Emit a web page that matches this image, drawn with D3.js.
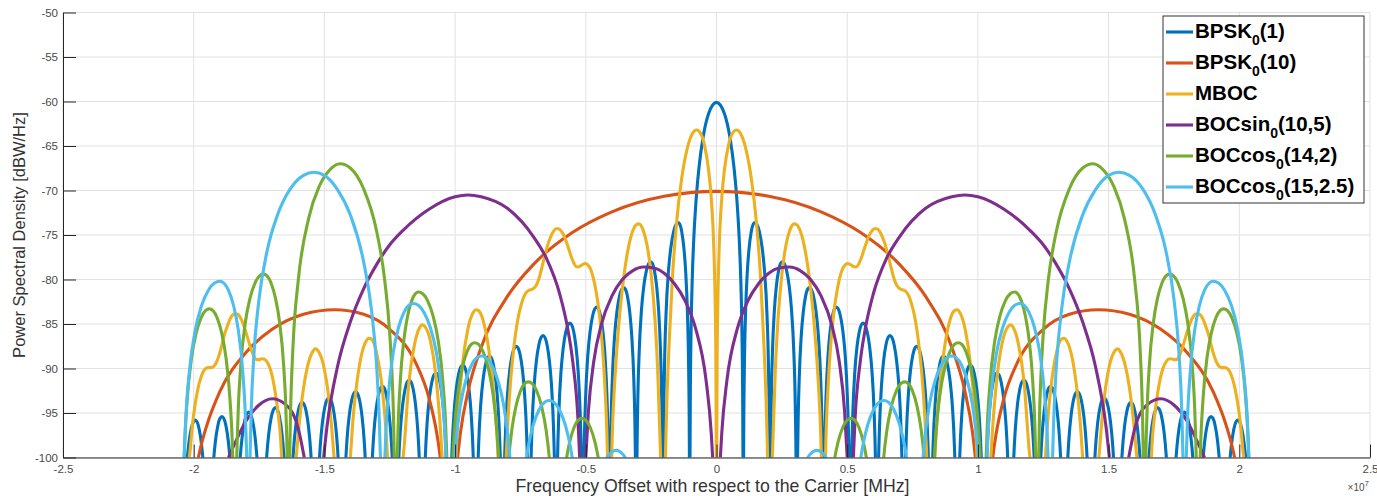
<!DOCTYPE html>
<html>

<head>
  <meta charset="utf-8">
  <title>PSD of GNSS signals</title>
  <script src="https://cdn.jsdelivr.net/npm/d3@7/dist/d3.min.js"></script>
  <style>
    body {
      margin: 0;
      background: #fff;
      font-family: "Liberation Sans", Arial, sans-serif;
    }
  </style>
</head>

<body>
  <main id="container"></main>

  <script>
    // frequencies are in axis units (x 10^7 Hz), levels in dBW/Hz.
    // every curve is symmetric, so only the positive side is listed and mirrored.

    const seriesNames = ["BPSK|0|(1)", "BPSK|0|(10)", "MBOC||", "BOCsin|0|(10,5)", "BOCcos|0|(14,2)", "BOCcos|0|(15,2.5)"];
    const seriesColors = ["#0072BD", "#D95319", "#EDB120", "#7E2F8E", "#77AC30", "#4DBEEE"];

    const xTicks = [-2.5, -2, -1.5, -1, -0.5, 0, 0.5, 1, 1.5, 2, 2.5];
    const xTickLabels = ["-2.5", "-2", "-1.5", "-1", "-0.5", "0", "0.5", "1", "1.5", "2", "2.5"];
    const yTicks = [-100, -95, -90, -85, -80, -75, -70, -65, -60, -55, -50];

    // level across one simple lobe: [fraction of the way from null to peak, dB below the peak]
    const lobeShape = [[0, -60], [0.005, -36.1], [0.02, -24], [0.05, -16.1], [0.1, -10.2],
      [0.18, -5.4], [0.26, -2.75], [0.35, -1], [0.43, -0.2], [0.5, 0]];

    // simple lobes: [left null, right null, peak position, peak level]
    // traced pieces: lists of [x, dB]

    // BPSK0(1)
    const bpsk1Pieces = [
      [[0, -60.1], [0.0307, -61.4], [0.0512, -64], [0.0665, -67.3], [0.0767, -70.55], [0.087, -75.5],
       [0.0921, -79.3], [0.0972, -85.7], [0.1003, -93.9], [0.1013, -100]]
    ];
    const bpsk1Lobes = [
      [0.1023, 0.2046, 0.1463, -73.6], [0.2046, 0.3069, 0.2516, -78.0], [0.3069, 0.4092, 0.3551, -80.9],
      [0.4092, 0.5115, 0.4580, -83.1], [0.5115, 0.6138, 0.5608, -84.9], [0.6138, 0.7161, 0.6634, -86.3],
      [0.7161, 0.8184, 0.7659, -87.5], [0.8184, 0.9207, 0.8683, -88.6], [0.9207, 1.0230, 0.9708, -89.6],
      [1.0230, 1.1253, 1.0732, -90.5], [1.1253, 1.2276, 1.1755, -91.3], [1.2276, 1.3299, 1.2779, -92.0],
      [1.3299, 1.4322, 1.3803, -92.6], [1.4322, 1.5345, 1.4826, -93.3], [1.5345, 1.6368, 1.5850, -93.8],
      [1.6368, 1.7391, 1.6873, -94.4], [1.7391, 1.8414, 1.7897, -94.9], [1.8414, 1.9437, 1.8920, -95.4],
      [1.9437, 2.0460, 1.9943, -95.8]
    ];

    // BPSK0(10)
    const bpsk10Pieces = [
      [[0, -70.1], [0.2, -70.65], [0.4, -72.4], [0.55, -74.7], [0.7, -78.3], [0.8, -81.9], [0.9, -87.6],
       [0.95, -92.5], [0.98, -97.3], [0.9905, -100]],
      [[1.057, -100], [1.06, -99.25], [1.07, -97.3], [1.1, -93.3], [1.15, -89.4], [1.25, -85.6], [1.35, -83.9],
       [1.46, -83.4], [1.58, -83.9], [1.7, -85.6], [1.8, -88.2], [1.9, -92.6], [1.95, -96.4], [1.97, -98.45],
       [1.982, -100]]
    ];
    const bpsk10Lobes = [];

    // MBOC
    const mbocPieces = [
      [[0.0007, -100], [0.0026, -88.5], [0.0051, -82.5], [0.0102, -76.5], [0.0205, -70.7], [0.0307, -67.6],
       [0.046, -64.9], [0.0614, -63.55], [0.0767, -63.2], [0.0921, -63.6], [0.1125, -65.35], [0.133, -68.6],
       [0.1535, -73.85], [0.1688, -79.9], [0.179, -85.85], [0.1893, -93.2], [0.1944, -98.7], [0.1953, -100]],
      [[0.2138, -100], [0.2148, -99], [0.2251, -90.1], [0.2353, -84.5], [0.2506, -79.3], [0.266, -76.1],
       [0.2813, -74.4], [0.2967, -73.75], [0.3069, -73.85], [0.3222, -74.7], [0.3376, -76.5], [0.3529, -79.3],
       [0.3683, -83.3], [0.3785, -86.8], [0.3887, -91.2], [0.399, -97.7], [0.401, -100]],
      [[0.4169, -100], [0.4194, -97.2], [0.4297, -90.5], [0.4399, -86.35], [0.4501, -83.4], [0.4604, -81.4],
       [0.4706, -79.9], [0.4808, -78.9], [0.491, -78.4], [0.5013, -78.2], [0.5115, -78.3], [0.5217, -78.5],
       [0.532, -78.6], [0.5422, -78.35], [0.5524, -77.7], [0.5627, -76.8], [0.5729, -75.9], [0.5831, -75.1],
       [0.5933, -74.6], [0.6036, -74.3], [0.6138, -74.3], [0.624, -74.6], [0.6343, -75.2], [0.6445, -76],
       [0.6547, -77.1], [0.665, -78.3], [0.6752, -79.5], [0.6854, -80.4], [0.6956, -80.9], [0.7059, -81.1],
       [0.7161, -81.2], [0.7263, -81.4], [0.7366, -81.9], [0.7468, -82.8], [0.757, -84], [0.7673, -85.8],
       [0.7775, -88.2], [0.7877, -91.4], [0.7979, -95.9], [0.8031, -99], [0.8045, -100]],
      [[0.8356, -100], [0.8389, -97.9], [0.8491, -93.8], [0.8696, -88.2], [0.89, -84.9], [0.9105, -83.5],
       [0.9207, -83.4], [0.9309, -83.7], [0.9514, -85.6], [0.9719, -89.6], [0.9923, -97], [0.9968, -100]],
      [[1.0496, -100], [1.0537, -97.9], [1.0742, -90.7], [1.0946, -86.9], [1.1151, -85.3], [1.1253, -85.1],
       [1.1355, -85.4], [1.156, -87.4], [1.1765, -91.5], [1.1969, -99.4], [1.199, -100]],
      [[1.2583, -100], [1.2685, -95.4], [1.2788, -92.25], [1.2992, -88.4], [1.3197, -86.7], [1.3299, -86.6],
       [1.3401, -86.9], [1.3606, -88.8], [1.381, -92.9], [1.3913, -96], [1.4005, -100]],
      [[1.4629, -100], [1.4731, -96.3], [1.4834, -93.3], [1.5038, -89.6], [1.5243, -88], [1.5345, -87.8],
       [1.5447, -88.1], [1.5652, -89.85], [1.5857, -93.45], [1.5959, -96.1], [1.6061, -99.4], [1.6082, -100]],
      [[1.6634, -100], [1.6675, -97.9], [1.6777, -94.85], [1.688, -92.7], [1.6982, -91.05], [1.7084, -89.95],
       [1.7186, -89.3], [1.7289, -88.95], [1.7391, -88.9], [1.7493, -89], [1.7596, -89], [1.7698, -88.6],
       [1.78, -87.9], [1.7903, -86.9], [1.8005, -85.9], [1.8107, -85], [1.8209, -84.3], [1.8312, -83.9],
       [1.8414, -83.85], [1.8516, -84], [1.8619, -84.5], [1.8721, -85.3], [1.8823, -86.2], [1.8926, -87.4],
       [1.9028, -88.5], [1.913, -89.3], [1.9232, -89.75], [1.9335, -89.9], [1.9437, -89.9], [1.9539, -90],
       [1.9642, -90.4], [1.9744, -91.2], [1.9846, -92.4], [1.9949, -94.1], [2.0051, -96.4], [2.0153, -99.6],
       [2.0174, -100]]
    ];
    const mbocLobes = [];

    // BOCsin0(10,5)
    const bocSinPieces = [
      [[0.0148, -100], [0.02, -97.3], [0.04, -91.3], [0.08, -85.5], [0.12, -82.4], [0.16, -80.5], [0.2, -79.3],
       [0.24, -78.7], [0.28, -78.6], [0.32, -79], [0.36, -80], [0.4, -81.85], [0.44, -85], [0.47, -89.3],
       [0.49, -94.8], [0.5, -100]],
      [[0.5235, -100], [0.53, -95.7], [0.55, -89.2], [0.57, -85.4], [0.6, -81.6], [0.65, -77.65], [0.7, -75.2],
       [0.8, -72], [0.9, -70.7], [0.95, -70.5], [1.0, -70.7], [1.1, -72.1], [1.2, -74.5], [1.25, -76.1],
       [1.3, -78.3], [1.35, -81.05], [1.4, -84.7], [1.45, -89.8], [1.49, -96.5], [1.503, -100]],
      [[1.577, -100], [1.6, -96.75], [1.65, -94], [1.7, -93.4], [1.75, -94.1], [1.8, -95.9], [1.85, -98.9],
       [1.867, -100]]
    ];
    const bocSinLobes = [];

    // BOCcos0(14,2)
    const bocCos14Pieces = [
      [[1.233, -100], [1.235, -96.3], [1.24, -91.6], [1.25, -86.1], [1.27, -79.9], [1.3, -74.6], [1.35, -69.8],
       [1.4, -67.5], [1.44, -67], [1.48, -67.7], [1.52, -69.55], [1.56, -73.1], [1.6, -80.1], [1.62, -87.45],
       [1.63, -95.6], [1.6328, -100]]
    ];
    const bocCos14Lobes = [
      [0.4092, 0.6138, 0.515, -95.6], [0.6138, 0.8184, 0.72, -91.5], [0.8184, 1.0230, 0.925, -87.1],
      [1.0230, 1.2276, 1.14, -81.4], [1.6368, 1.8414, 1.733, -79.4], [1.8414, 2.0460, 1.94, -83.3]
    ];

    // BOCcos0(15,2.5)
    const bocCos15Pieces = [
      [[1.2857, -100], [1.29, -95.7], [1.3, -89.8], [1.32, -83.4], [1.35, -78], [1.4, -72.8], [1.45, -69.9],
       [1.5, -68.3], [1.54, -67.95], [1.58, -68.3], [1.63, -69.8], [1.68, -72.8], [1.72, -76.9], [1.75, -82.2],
       [1.77, -88.6], [1.78, -94.8], [1.7845, -100]]
    ];
    const bocCos15Lobes = [
      [0.2558, 0.5115, 0.384, -99.2], [0.5115, 0.7673, 0.64, -93.6], [0.7673, 1.0230, 0.90, -88.6],
      [1.0230, 1.2788, 1.16, -82.7], [1.7903, 2.0460, 1.90, -80.2]
    ];

    const allPieces = [bpsk1Pieces, bpsk10Pieces, mbocPieces, bocSinPieces, bocCos14Pieces, bocCos15Pieces];
    const allLobes = [bpsk1Lobes, bpsk10Lobes, mbocLobes, bocSinLobes, bocCos14Lobes, bocCos15Lobes];

    // ---------------------------------------------------------------

    const vizWidth = 1377;
    const vizHeight = 496;
    const plotLeft = 63, plotRight = 1370, plotTop = 12.5, plotBottom = 457.5;

    const svg = d3.select("#container")
      .append("svg")
      .attr("width", vizWidth)
      .attr("height", vizHeight)
      .style("display", "block");

    const x = d3.scaleLinear().domain([-2.5, 2.5]).range([plotLeft, plotRight]);
    const y = d3.scaleLinear().domain([-100, -50]).range([plotBottom, plotTop]);

    // grid
    svg.append("g")
      .selectAll("line.gx")
      .data(xTicks)
      .join("line")
      .attr("x1", d => x(d)).attr("x2", d => x(d))
      .attr("y1", y(-100)).attr("y2", y(-50))
      .attr("stroke", "#e1e1e1").attr("stroke-width", 1);

    svg.append("g")
      .selectAll("line.gy")
      .data(yTicks)
      .join("line")
      .attr("y1", d => y(d)).attr("y2", d => y(d))
      .attr("x1", x(-2.5)).attr("x2", x(2.5))
      .attr("stroke", "#e1e1e1").attr("stroke-width", 1);

    // curves
    svg.append("defs").append("clipPath").attr("id", "plotClip")
      .append("rect")
      .attr("x", plotLeft).attr("y", plotTop)
      .attr("width", plotRight - plotLeft).attr("height", plotBottom - plotTop);

    function mirror(piece) {
      const m = piece.map(([a, b]) => [-a, b]).reverse();
      if (piece[0][0] === 0) return [m.concat(piece.slice(1))];
      return [m, piece];
    }

    function lobeToPiece([x0, x1, px, peak]) {
      const left = lobeShape.map(([t, d]) => [x0 + (px - x0) * t * 2, peak + d]);
      const right = lobeShape.slice(0, -1).reverse().map(([t, d]) => [x1 - (x1 - px) * t * 2, peak + d]);
      return left.concat(right);
    }

    const line = d3.line()
      .x(d => x(d[0]))
      .y(d => y(d[1]))
      .curve(d3.curveMonotoneX);

    const curves = svg.append("g").attr("clip-path", "url(#plotClip)");

    seriesColors.forEach((color, i) => {
      const pieces = allPieces[i].concat(allLobes[i].map(lobeToPiece)).flatMap(mirror);
      curves.append("path")
        .attr("d", pieces.map(p => line(p)).join(""))
        .attr("fill", "none")
        .attr("stroke", color)
        .attr("stroke-width", 3.1)
        .attr("stroke-linejoin", "round");
    });

    // axes
    const xAxis = svg.append("g")
      .attr("transform", `translate(0,${plotBottom})`)
      .call(d3.axisBottom(x).tickValues(xTicks).tickFormat((d, i) => xTickLabels[i])
        .tickSizeInner(-13).tickSizeOuter(0).tickPadding(7));

    const yAxis = svg.append("g")
      .attr("transform", `translate(${plotLeft},0)`)
      .call(d3.axisLeft(y).tickValues(yTicks).tickFormat(d => d)
        .tickSizeInner(-13).tickSizeOuter(0).tickPadding(5));

    [xAxis, yAxis].forEach(a => {
      a.select(".domain").attr("stroke", "#262626");
      a.selectAll(".tick line").attr("stroke", "#262626");
      a.selectAll("text")
        .attr("fill", "#4a4a4a")
        .style("font-family", "Liberation Sans, Arial, sans-serif")
        .style("font-size", "11.5px");
    });

    svg.append("text")
      .attr("x", x(0) - 4)
      .attr("y", 492)
      .attr("text-anchor", "middle")
      .attr("fill", "#333")
      .style("font-size", "17.7px")
      .text("Frequency Offset with respect to the Carrier [MHz]");

    svg.append("text")
      .attr("transform", `translate(25,${(plotTop + plotBottom) / 2}) rotate(-90)`)
      .attr("text-anchor", "middle")
      .attr("fill", "#333")
      .style("font-size", "16.5px")
      .text("Power Spectral Density [dBW/Hz]");

    const expo = svg.append("text")
      .attr("x", 1369)
      .attr("y", 491)
      .attr("text-anchor", "end")
      .attr("fill", "#4a4a4a")
      .style("font-size", "10px");
    expo.append("tspan").text("\u00d710");
    expo.append("tspan").attr("dy", -5).style("font-size", "8px").text("7");

    // legend
    const legend = svg.append("g").attr("transform", "translate(1163,16)");
    legend.append("rect")
      .attr("width", 201).attr("height", 187)
      .attr("fill", "#fff")
      .attr("stroke", "#333").attr("stroke-width", 1);

    const rows = legend.selectAll("g.row")
      .data(seriesNames)
      .join("g")
      .attr("transform", (d, i) => `translate(0,${16 + i * 31})`);

    rows.append("line")
      .attr("x1", 3).attr("x2", 30)
      .attr("stroke", (d, i) => seriesColors[i])
      .attr("stroke-width", 3.1);

    const labels = rows.append("text")
      .attr("x", 32)
      .attr("y", 6)
      .attr("fill", "#000")
      .style("font-weight", "bold")
      .style("font-size", "20.5px");

    labels.each(function (d) {
      const [main, sub, rest] = d.split("|");
      const t = d3.select(this);
      t.append("tspan").text(main);
      if (sub) {
        t.append("tspan").attr("dy", 7).style("font-size", "14px").text(sub);
        t.append("tspan").attr("dy", -7).text(rest);
      }
    });
  </script>
</body>

</html>
